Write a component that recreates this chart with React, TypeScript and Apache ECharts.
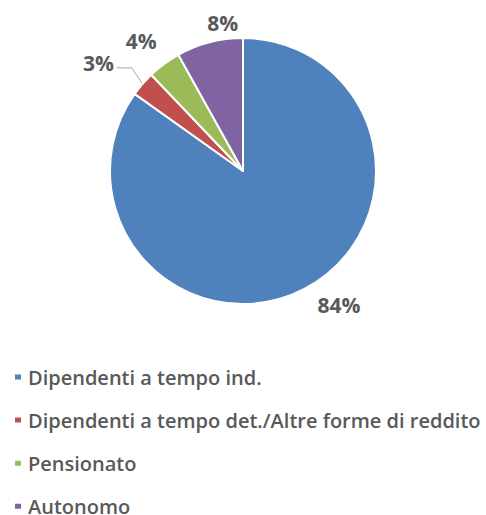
import React, { useEffect, useRef } from "react";
import * as echarts from "echarts";

const categories = [
  "Dipendenti a tempo ind.",
  "Dipendenti a tempo det./Altre forme di reddito",
  "Pensionato",
  "Autonomo",
];
const values = [84, 3, 4, 8];
const colors = ["#4F81BD", "#C0504D", "#9BBB59", "#8064A2"];
const labelShift = [
  [-8, 7],
  [-7, -16],
  [12, -15],
  [48, -10],
];

export default function App() {
  const ref = useRef<HTMLDivElement>(null);
  useEffect(() => {
    document.body.style.margin = "0";
    const chart = echarts.init(ref.current!, null, { renderer: "svg" });
    const font = "'Open Sans', sans-serif";
    chart.setOption({
      animation: false,
      color: colors,
      legend: {
        orient: "vertical",
        left: 13,
        top: 367,
        height: 200,
        padding: 0,
        icon: "rect",
        itemWidth: 8,
        itemHeight: 7,
        itemGap: 23.1,
        data: categories,
        textStyle: {
          fontFamily: font,
          fontSize: 20,
          fontWeight: 600,
          color: "#595959",
          lineHeight: 18,
          padding: [0, 0, 0, 1],
        },
      },
      series: [
        {
          type: "pie",
          center: [243, 171],
          radius: 133,
          startAngle: 90,
          clockwise: true,
          itemStyle: { borderColor: "#fff", borderWidth: 2 },
          label: {
            show: true,
            position: "outside",
            formatter: "{c}%",
            fontFamily: font,
            fontSize: 21,
            fontWeight: "bold",
            color: "#595959",
          },
          labelLine: { show: true, length: 10, length2: 12, lineStyle: { color: "#A6A6A6", width: 1 } },
          labelLayout: (p: any) => {
            const [dx, dy] = labelShift[p.dataIndex];
            const out: any = { dx, dy };
            if (p.dataIndex === 1 && p.labelLinePoints) {
              const r = p.labelRect;
              const right = r.x + r.width + dx + 3;
              const midY = r.y + r.height / 2 + dy + 5;
              const start = p.labelLinePoints[0];
              out.labelLinePoints = [start, [right + 15, midY], [right, midY]];
            }
            return out;
          },
          data: categories.map((name, i) => ({
            name,
            value: values[i],
            labelLine: { show: i === 1 },
          })),
        },
      ],
    });
    return () => chart.dispose();
  }, []);
  return <div ref={ref} style={{ width: 486, height: 515 }} />;
}
